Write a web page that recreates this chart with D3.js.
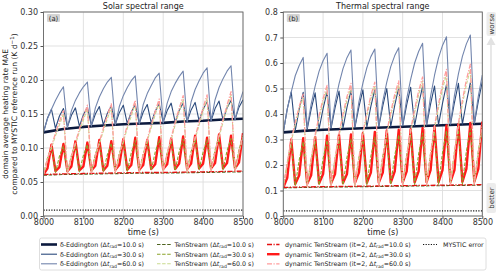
<!DOCTYPE html>
<html><head><meta charset="utf-8">
<script src="https://cdn.jsdelivr.net/npm/d3@7"></script>
<style>body{margin:0;background:#fff}svg{display:block}text{font-family:"DejaVu Sans",sans-serif}</style>
</head><body><svg id="c" width="500" height="274"></svg>
<script>
// ---------- data ----------
const times10 = [8000,8010,8020,8030,8040,8050,8060,8070,8080,8090,8100,8110,8120,8130,8140,8150,8160,8170,8180,8190,8200,8210,8220,8230,8240,8250,8260,8270,8280,8290,8300,8310,8320,8330,8340,8350,8360,8370,8380,8390,8400,8410,8420,8430,8440,8450,8460,8470,8480,8490,8500];
const times50 = [8000,8050,8100,8150,8200,8250,8300,8350,8400,8450,8500];
const timesMystic = [8000,8500];
const xTicks = [8000,8100,8200,8300,8400,8500];
const solarTicks = [0,0.05,0.10,0.15,0.20,0.25,0.30];
const thermalTicks = [0,0.1,0.2,0.3,0.4,0.5,0.6,0.7,0.8];

// Solar panel
const solarEdd10 = [.123,.128,.131,.133,.135,.136,.137,.139,.140,.142,.143];
const solarEdd30 = [.123,.144,.157,.129,.147,.158,.131,.148,.159,.132,.149,.160,.133,.150,.161,.134,.151,.162,.135,.152,.163,.136,.153,.164,.136,.153,.164,.137,.154,.165,.138,.155,.166,.138,.155,.166,.139,.156,.167,.140,.157,.168,.140,.158,.169,.141,.159,.170,.142,.160,.171];
const solarEdd60 = [.123,.143,.157,.170,.181,.190,.130,.155,.170,.181,.190,.197,.132,.159,.175,.187,.197,.204,.134,.161,.177,.189,.199,.206,.135,.164,.180,.192,.203,.210,.137,.166,.183,.195,.205,.213,.138,.168,.186,.199,.210,.218,.140,.171,.189,.202,.213,.221,.141,.165,.183];
const solarTs10 = [.060,.061,.0615,.062,.0625,.063,.0632,.0635,.064,.0645,.065];
const solarTs30 = [.060,.085,.103,.064,.088,.103,.064,.089,.106,.065,.089,.105,.065,.091,.108,.065,.090,.107,.066,.092,.109,.066,.093,.111,.066,.092,.109,.067,.094,.112,.067,.093,.110,.067,.095,.113,.067,.095,.114,.068,.094,.112,.068,.097,.116,.068,.096,.114,.068,.098,.118];
const solarTs60 = [.060,.083,.100,.118,.134,.150,.062,.086,.105,.124,.141,.158,.062,.087,.106,.125,.143,.160,.063,.089,.109,.129,.147,.165,.063,.089,.110,.130,.149,.167,.064,.091,.112,.134,.153,.172,.064,.091,.113,.134,.154,.173,.065,.093,.116,.138,.158,.178,.065,.093,.116];
const solarDyn10 = [.061,.062,.0625,.063,.0635,.064,.064,.0645,.065,.0655,.066];
const solarDyn30 = [.061,.070,.105,.066,.072,.106,.066,.073,.110,.067,.073,.108,.067,.074,.112,.067,.074,.110,.068,.075,.113,.068,.075,.115,.068,.075,.112,.069,.076,.116,.069,.076,.114,.069,.077,.117,.069,.077,.118,.070,.077,.115,.070,.078,.120,.070,.078,.118,.070,.079,.122];
const solarDyn60 = [.061,.085,.103,.122,.139,.155,.063,.088,.108,.128,.146,.163,.063,.089,.109,.129,.148,.165,.064,.091,.112,.133,.152,.170,.064,.091,.113,.134,.154,.172,.065,.093,.115,.138,.158,.177,.065,.093,.116,.138,.159,.178,.066,.095,.119,.142,.163,.183,.066,.095,.119];
const solarMystic = [0.0085,0.0085];

// Thermal panel
const thermEdd10 = [.328,.334,.338,.341,.344,.347,.350,.353,.356,.359,.362];
const thermEdd30 = [.328,.420,.487,.335,.418,.485,.340,.419,.483,.342,.421,.487,.344,.424,.490,.346,.426,.492,.347,.428,.495,.349,.430,.497,.350,.432,.500,.351,.434,.503,.353,.436,.505,.354,.438,.508,.355,.439,.510,.357,.442,.515,.358,.445,.520,.360,.447,.523,.361,.450,.527];
const thermEdd60 = [.328,.420,.487,.550,.590,.622,.345,.439,.509,.568,.609,.638,.348,.445,.518,.578,.621,.651,.350,.448,.521,.582,.625,.655,.353,.451,.525,.586,.629,.660,.356,.459,.536,.600,.645,.677,.359,.469,.552,.620,.669,.703,.362,.473,.557,.626,.675,.710,.365,.470,.553];
const thermTs10 = [.110,.112,.113,.114,.115,.116,.117,.118,.119,.120,.121];
const thermTs30 = [.110,.205,.292,.118,.220,.290,.119,.222,.293,.120,.225,.297,.120,.226,.300,.121,.230,.302,.122,.230,.306,.122,.234,.310,.123,.235,.315,.123,.238,.318,.124,.240,.320,.124,.243,.325,.125,.245,.330,.125,.248,.334,.126,.250,.338,.126,.253,.342,.127,.255,.346];
const thermTs60 = [.110,.205,.292,.358,.418,.465,.115,.218,.310,.383,.448,.500,.116,.221,.314,.388,.453,.505,.117,.223,.317,.392,.458,.510,.118,.225,.320,.395,.462,.515,.119,.229,.327,.405,.475,.530,.120,.237,.342,.424,.498,.555,.121,.243,.352,.438,.515,.575,.122,.243,.350];
const thermDyn10 = [.112,.114,.115,.116,.117,.118,.119,.120,.121,.122,.123];
const thermDyn30 = [.112,.150,.300,.125,.160,.305,.127,.160,.310,.128,.165,.315,.128,.165,.318,.129,.165,.320,.130,.170,.325,.130,.170,.330,.131,.170,.335,.131,.175,.338,.132,.175,.340,.132,.175,.345,.133,.180,.350,.133,.180,.355,.134,.180,.360,.134,.185,.365,.135,.185,.370];
const thermDyn60 = [.112,.210,.300,.368,.430,.478,.118,.224,.319,.394,.461,.512,.119,.227,.324,.400,.468,.520,.120,.229,.327,.404,.472,.525,.121,.231,.330,.407,.477,.530,.122,.236,.338,.418,.490,.545,.123,.245,.354,.439,.516,.575,.124,.251,.364,.453,.534,.595,.125,.250,.360];
const thermMystic = [0.02,0.02];

const legendLabels = [
  ["δ-Eddington (Δ","=10.0 s)"],["δ-Eddington (Δ","=30.0 s)"],["δ-Eddington (Δ","=60.0 s)"],
  ["TenStream (Δ","=10.0 s)"],["TenStream (Δ","=30.0 s)"],["TenStream (Δ","=60.0 s)"],
  ["dynamic TenStream (it=2, Δ","=10.0 s)"],["dynamic TenStream (it=2, Δ","=30.0 s)"],["dynamic TenStream (it=2, Δ","=60.0 s)"],
  ["MYSTIC error",null]
];

// ---------- styles ----------
const styles = [
  {c:"#0c1a3e",w:2.6,d:null},
  {c:"#2b4a7c",w:1.1,d:null},
  {c:"#7285ad",w:1.1,d:null},
  {c:"#4f6420",w:1.1,d:"3.5,1.6"},
  {c:"#8ba329",w:1.1,d:"3.5,1.6"},
  {c:"#c9da8e",w:1.1,d:"3.5,1.6"},
  {c:"#e41010",w:1.3,d:"5,1.5,1.2,1.5"},
  {c:"#ff1a1a",w:2.4,d:null},
  {c:"#ff9c9c",w:1.3,d:"5,1.5,1.2,1.5"},
  {c:"#111",w:1.2,d:"1.2,1.4"}
];
const drawOrder = [0,1,2,7,3,4,5,6,8,9];

const panels = [
  {x0:43.5,x1:243,max:0.30,ticks:solarTicks,fmt:d3.format(".2f"),title:"Solar spectral range",tag:"(a)",
   series:[[times50,solarEdd10],[times10,solarEdd30],[times10,solarEdd60],[times50,solarTs10],[times10,solarTs30],[times10,solarTs60],[times50,solarDyn10],[times10,solarDyn30],[times10,solarDyn60],[timesMystic,solarMystic]]},
  {x0:283.3,x1:482.3,max:0.8,ticks:thermalTicks,fmt:d3.format(".1f"),title:"Thermal spectral range",tag:"(b)",
   series:[[times50,thermEdd10],[times10,thermEdd30],[times10,thermEdd60],[times50,thermTs10],[times10,thermTs30],[times10,thermTs60],[times50,thermDyn10],[times10,thermDyn30],[times10,thermDyn60],[timesMystic,thermMystic]]}
];

const svg = d3.select("#c");
const yTop = 12, yBot = 216;

panels.forEach((p,pi)=>{
  const x = d3.scaleLinear().domain([8000,8500]).range([p.x0,p.x1]);
  const y = d3.scaleLinear().domain([0,p.max]).range([yBot,yTop]);
  const g = svg.append("g");
  // grid
  g.append("g").selectAll("line").data(xTicks).join("line")
    .attr("x1",d=>x(d)).attr("x2",d=>x(d)).attr("y1",yTop).attr("y2",yBot)
    .attr("stroke","#dedede").attr("stroke-width",0.9);
  g.append("g").selectAll("line").data(p.ticks).join("line")
    .attr("x1",p.x0).attr("x2",p.x1).attr("y1",d=>y(d)).attr("y2",d=>y(d))
    .attr("stroke","#dedede").attr("stroke-width",0.9);
  // lines
  const clipId = "clip"+pi;
  svg.append("clipPath").attr("id",clipId).append("rect")
    .attr("x",p.x0).attr("y",yTop).attr("width",p.x1-p.x0).attr("height",yBot-yTop);
  const lg = g.append("g").attr("clip-path",`url(#${clipId})`);
  drawOrder.forEach(i=>{
    const [ts,vs] = p.series[i];
    const pts = ts.map((t,k)=>[t,vs[k]]);
    const st = styles[i];
    lg.append("path").datum(pts)
      .attr("d",d3.line().x(d=>x(d[0])).y(d=>y(d[1])))
      .attr("fill","none").attr("stroke",st.c).attr("stroke-width",st.w)
      .attr("stroke-linejoin","round")
      .attr("stroke-dasharray",st.d);
  });
  // axes
  const ax = g.append("g").attr("transform",`translate(0,${yBot})`)
    .call(d3.axisBottom(x).tickValues(xTicks).tickSize(3).tickFormat(d3.format("d")));
  const ay = g.append("g").attr("transform",`translate(${p.x0},0)`)
    .call(d3.axisLeft(y).tickValues(p.ticks).tickSize(3).tickPadding(2.5).tickFormat(p.fmt));
  [ax,ay].forEach(a=>{
    a.select(".domain").remove();
    a.selectAll("line").attr("stroke","#555");
    a.selectAll("text").attr("fill","#333").style("font-size","8px").style("font-family","DejaVu Sans");
  });
  ax.selectAll("text").attr("y",3.8).attr("dy","0.71em");
  // box
  g.append("rect").attr("x",p.x0).attr("y",yTop).attr("width",p.x1-p.x0).attr("height",yBot-yTop)
    .attr("fill","none").attr("stroke","#666").attr("stroke-width",0.9);
  // title
  const cx = (p.x0+p.x1)/2;
  g.append("text").attr("x",cx).attr("y",9).attr("text-anchor","middle")
    .style("font-size","8px").attr("fill","#222").text(p.title);
  g.append("text").attr("x",cx).attr("y",235).attr("text-anchor","middle")
    .style("font-size","8px").attr("fill","#222").text("time (s)");
  // tag
  g.append("rect").attr("x",p.x0+3.5).attr("y",14).attr("width",13).attr("height",8)
    .attr("fill","#d4d4d4").attr("rx",1);
  g.append("text").attr("x",p.x0+10).attr("y",20.5).attr("text-anchor","middle")
    .style("font-size","6.8px").attr("fill","#222").text(p.tag);
});

// y label
const yl = svg.append("text").attr("transform","translate(8,114) rotate(-90)")
  .attr("text-anchor","middle").style("font-size","7.6px").attr("fill","#222");
yl.append("tspan").attr("x",0).attr("y",0).text("domain average heating rate MAE");
const l2 = yl.append("tspan").attr("x",0).attr("y",9).text("compared to MYSTIC reference run (K d");
l2.append("tspan").attr("baseline-shift","super").style("font-size","5.5px").text("−1");
yl.append("tspan").attr("dy",0).text(")");

// better/worse annotation
const ann = svg.append("g");
ann.append("line").attr("x1",491).attr("x2",491).attr("y1",180).attr("y2",44)
  .attr("stroke","#e2e2e2").attr("stroke-width",1.6);
ann.append("path").attr("d","M486.5,45 L495.5,45 L491,37 Z").attr("fill","#e2e2e2");
ann.append("rect").attr("x",486.5).attr("y",12).attr("width",9.5).attr("height",24).attr("rx",2).attr("fill","#ececec");
ann.append("text").attr("transform","translate(494,24) rotate(-90)").attr("text-anchor","middle")
  .style("font-size","7px").attr("fill","#333").text("worse");
ann.append("rect").attr("x",486.5).attr("y",183).attr("width",9.5).attr("height",30).attr("rx",2).attr("fill","#ececec");
ann.append("text").attr("transform","translate(494,198) rotate(-90)").attr("text-anchor","middle")
  .style("font-size","7px").attr("fill","#333").text("better");

// legend
const leg = svg.append("g");
leg.append("rect").attr("x",39.5).attr("y",238).attr("width",446.5).attr("height",32).attr("rx",2)
  .attr("fill","#fff").attr("stroke","#d6d6d6").attr("stroke-width",0.8);
const colX = [[41,57,60],[157,172,174.5],[267,279.5,285],[423,437,443]];
const rowY = [244.5,254.2,263.8];
legendLabels.forEach((lab,i)=>{
  const col = Math.floor(i/3), row = i%3;
  const [h0,h1,tx] = colX[col];
  const yy = rowY[row];
  const st = styles[i];
  leg.append("line").attr("x1",h0).attr("x2",h1).attr("y1",yy).attr("y2",yy)
    .attr("stroke",st.c).attr("stroke-width",st.w).attr("stroke-dasharray",st.d);
  const t = leg.append("text").attr("x",tx).attr("y",yy+2.3).style("font-size","6.3px").attr("fill","#222");
  t.append("tspan").text(lab[0]);
  if(lab[1]!==null){
    t.append("tspan").style("font-style","italic").text("t");
    t.append("tspan").attr("dy",1.5).style("font-size","4.6px").text("rad");
    t.append("tspan").attr("dy",-1.5).text(lab[1]);
  }
});
</script></body></html>
